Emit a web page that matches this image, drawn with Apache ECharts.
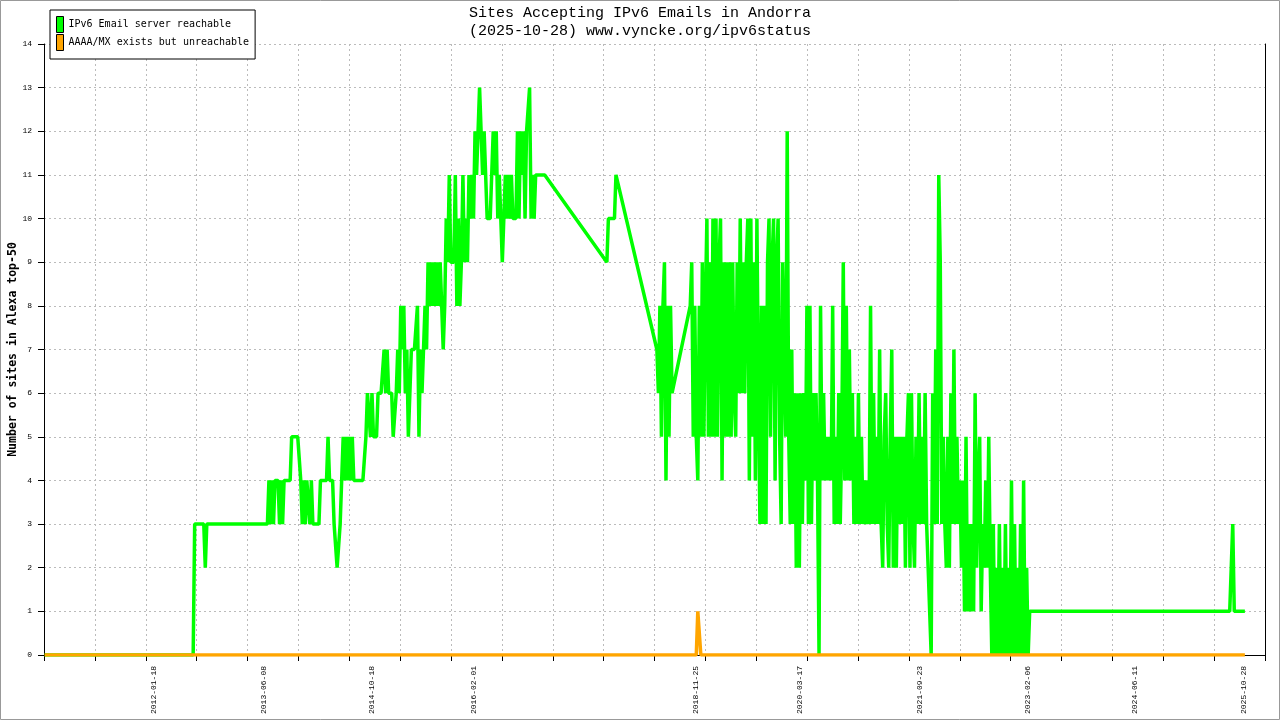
<!DOCTYPE html>
<html>
<head>
<meta charset="utf-8">
<title>Sites Accepting IPv6 Emails in Andorra</title>
<script src="https://cdn.jsdelivr.net/npm/echarts@6.0.0/dist/echarts.min.js"></script>
<style>
    html, body { margin: 0; padding: 0; background: #fff; }
    #ipv6Chart { width: 1280px; height: 720px; }
</style>
</head>
<body>
<div id="ipv6Chart"></div>
<script>
    // time axis: days counted from axisStartDate
    var axisStartDate = '2010-08-27';
    var axisSpanDays = 5640;
    var tickStepDays = 235;

    // dates printed under the axis
    var labelDates = ['2012-01-18', '2013-06-08', '2014-10-18', '2016-02-01', '2018-11-25',
        '2020-03-17', '2021-09-23', '2023-02-06', '2024-06-11', '2025-10-28'];

    // weekly samples of "IPv6 Email server reachable", first one on firstWeek
    // null = no measurement that week (line goes straight over the gap)
    var firstWeek = '2010-08-30';

    var reachable2010_2012 = [
        0,0,0,0,0,0,0,0,0,0, 0,0,0,0,0,0,0,0,0,0, 0,0,0,0,0,0,0,0,0,0,
        0,0,0,0,0,0,0,0,0,0, 0,0,0,0,0,0,0,0,0,0, 0,0,0,0,0,0,0,0,0,0,
        0,0,0,0,0,0,0,0,0,0, 0,0,0,0,0,0,0,0,0,0, 0,0,0,0,0,0,0,0,0,0,
        0,0,0,0,0,0,0,0,0,
        3,3,3,3,3,3,3,2,3,
        3,3,3,3,3,3,3,3,3,3, 3,3,3,3,3,3,3,3,3,3, 3,3,3,3,3,3,3,3,3,3, 3,3,3,3,3,3,3,3,3,3
    ];

    var reachable2013_2016 = [
        4,3,4,3,4,4,4,3,4,3,  4,4,4,4,4,5,5,5,5,5,
        5,4,3,4,3,4,4,3,4,3,  3,3,3,3,4,4,4,4,4,5,
        4,4,4,3,3,2,2,3,4,5,  4,5,4,5,4,5,4,4,4,4,
        4,4,4,4,5,6,6,5,6,5,  5,5,6,6,6,6,7,6,7,6,
        6,6,5,5,6,7,6,8,7,8,  6,7,5,6,7,7,7,7,8,5,
        7,6,7,8,7,9,8,9,8,9,  8,9,8,9,8,7,8,10,9,11,
        9,9,9,11,8,10,8,9,11,9,  10,9,11,10,11,10,12,11,11,13,
        12,11,12,11,10,10,10,10,12,11,  12,10,11,10,9,10,11,10,11,10,
        11,10,10,10,12,10,12,11,12,10,  12,12,13,10,11,10,11,11,11,11,
        11,11,11,11
    ];

    var reachable2017_2018 = [
        null,null,null,null,null,null,null,null,null,null,
        null,null,null,null,null,null,null,null,null,null,
        null,null,null,null,null,null,null,null,null,null,
        null,null,null,null,null,null,null,null,null,
        9,10,10,10,10,10,11,11,
        null,null,null,null,null,null,null,null,null,null,
        null,null,null,null,null,null,null,null,null,null,
        null,null,null,null,null,
        7,6,8,5,8,9,4,8,5,8,6,
        6,
        null,null,null,null,null,null,null,null,null,null
    ];

    var reachable2019_2023 = [
        8,9,5,8,5,4,8,5,9,5,8,10,
        5,9,5,10,5,10,5,9,10,4,9,5,9,5,9,5,9,6,
        5,9,6,10,6,9,6,9,10,4,10,5,9,4,10,6,
        3,8,3,8,3,9,10,5,9,10,4,9,10,5,3,9,9,5,
        12,5,
        3,7,3,6,2,6,2,6,3,6,4,8,3,8,3,6,4,6,4,
        0,8,
        4,6,4,5,4,5,4,8,3,5,3,6,3,5,9,
        4,8,4,7,4,6,3,5,3,6,3,5,3,4,3,4,3,
        8,3,6,3,5,3,7,3,2,5,6,3,2,5,7,2,5,2,5,3,5,3,5,2,5,6,2,6,3,2,5,3,6,3,5,3,6,3,
        2,2,0,6,3,7,3,
        11,9,
        3,5,3,2,5,2,6,3,7,3,5,3,4,
        2,4,1,5,1,3,1,3,1,6,2,4,5,1,3,2,4,2,5,2,
        0,3,0,2,0,3,0,2,0,3,0,2,0,4,0,3,0,2,0,3,0,4,0,2,0,1
    ];

    var reachable2023_2025 = [
        1,1,1,1,1,1,1,1,1,1, 1,1,1,1,1,1,1,1,1,1, 1,1,1,1,1,1,1,1,1,1,
        1,1,1,1,1,1,1,1,1,1, 1,1,1,1,1,1,1,1,1,1, 1,1,1,1,1,1,1,1,1,1,
        1,1,1,1,1,1,1,1,1,1, 1,1,1,1,1,1,1,1,1,1, 1,1,1,1,1,1,1,1,1,1,
        1,1,1,1,1,1,1,1,1,1, 1,1,1,1,1,1,1,1,1,1, 1,1,1,1,1,1,1,1,1,1,
        1,1,1,1,1,1,1,1,1,1, 1,1,
        2,3,1,
        1,1,1,1,1,1,1
    ];

    // "AAAA/MX exists but unreachable": zero except one spike
    var unreachableDates = ['2010-08-30', '2018-11-26', '2018-12-03', '2018-12-10', '2018-12-17', '2025-11-03'];
    var unreachableValues = [0, 0, 1, 1, 0, 0];

    function dayNumber(s) {
        var p = s.split('-');
        return Date.UTC(+p[0], +p[1] - 1, +p[2]) / 86400000;
    }
    var day0 = dayNumber(axisStartDate);
    function toAxis(s) {
        return dayNumber(s) - day0;
    }
    function fromAxis(v) {
        return new Date((day0 + Math.round(v)) * 86400000).toISOString().slice(0, 10);
    }

    var reachable = [].concat(reachable2010_2012, reachable2013_2016, reachable2017_2018,
        reachable2019_2023, reachable2023_2025);
    var week0 = toAxis(firstWeek);
    var reachableData = [];
    for (var i = 0; i < reachable.length; i++) {
        if (reachable[i] !== null) {
            reachableData.push([week0 + 7 * i, reachable[i]]);
        }
    }
    var unreachableData = [];
    for (var j = 0; j < unreachableDates.length; j++) {
        unreachableData.push([toAxis(unreachableDates[j]), unreachableValues[j]]);
    }

    var gridLine = { show: true, lineStyle: { color: '#bbbbbb', type: [2, 3], width: 1 } };
    var blackLine = { show: true, lineStyle: { color: '#000', width: 1 } };

    var ipv6Chart = echarts.init(document.getElementById('ipv6Chart'));

    var ipv6Option = {
        animation: false,
        backgroundColor: '#fff',
        title: {
            text: 'Sites Accepting IPv6 Emails in Andorra\n(2025-10-28) www.vyncke.org/ipv6status',
            left: 'center',
            top: 4,
            padding: 0,
            textStyle: {
                fontFamily: 'Liberation Mono',
                fontSize: 15,
                fontWeight: 'normal',
                lineHeight: 18,
                color: '#000'
            }
        },
        legend: {
            orient: 'vertical',
            left: 50,
            top: 10,
            padding: [6, 6, 8, 6],
            itemWidth: 7,
            itemHeight: 16,
            itemGap: 1,
            icon: 'rect',
            backgroundColor: '#fff',
            borderColor: '#000',
            borderWidth: 1,
            itemStyle: { borderColor: '#000', borderWidth: 1 },
            textStyle: { fontFamily: 'DejaVu Sans Mono', fontSize: 10, color: '#000' },
            data: ['IPv6 Email server reachable', 'AAAA/MX exists but unreachable']
        },
        grid: {
            left: 44,
            right: 15,
            top: 44,
            bottom: 65,
            containLabel: false,
            outerBoundsMode: 'none'
        },
        xAxis: {
            type: 'value',
            min: 0,
            max: axisSpanDays,
            interval: tickStepDays,
            axisLine: blackLine,
            axisTick: { show: true, length: 6, lineStyle: { color: '#000' } },
            splitLine: gridLine,
            axisLabel: {
                customValues: labelDates.map(toAxis),
                rotate: 90,
                margin: 11,
                fontFamily: 'Liberation Mono',
                fontSize: 8,
                color: '#000',
                formatter: function (v) {
                    return fromAxis(v);
                }
            }
        },
        yAxis: [{
            type: 'value',
            min: 0,
            max: 14,
            interval: 1,
            name: 'Number of sites in Alexa top-50',
            nameLocation: 'middle',
            nameGap: 25,
            nameMoveOverlap: false,
            nameTextStyle: {
                fontFamily: 'DejaVu Sans Mono',
                fontWeight: 'bold',
                fontSize: 11.5,
                color: '#000'
            },
            axisLine: blackLine,
            axisTick: { show: true, length: 6, lineStyle: { color: '#000' } },
            splitLine: gridLine,
            axisLabel: {
                margin: 12,
                fontFamily: 'Liberation Mono',
                fontSize: 8,
                color: '#000'
            }
        }, {
            type: 'value',
            position: 'right',
            min: 0,
            max: 14,
            axisLine: blackLine,
            axisTick: { show: false },
            axisLabel: { show: false },
            splitLine: { show: false }
        }],
        graphic: [{
            type: 'rect',
            silent: true,
            shape: { x: 0.5, y: 0.5, width: 1279, height: 719 },
            style: { fill: null, stroke: '#999', lineWidth: 1 }
        }],
        series: [{
            name: 'IPv6 Email server reachable',
            type: 'line',
            symbol: 'none',
            color: '#00ff00',
            lineStyle: { color: '#00ff00', width: 3.5 },
            data: reachableData
        }, {
            name: 'AAAA/MX exists but unreachable',
            type: 'line',
            symbol: 'none',
            color: '#ffa500',
            lineStyle: { color: '#ffa500', width: 3.5 },
            data: unreachableData
        }]
    };

    ipv6Chart.setOption(ipv6Option);
</script>
</body>
</html>
